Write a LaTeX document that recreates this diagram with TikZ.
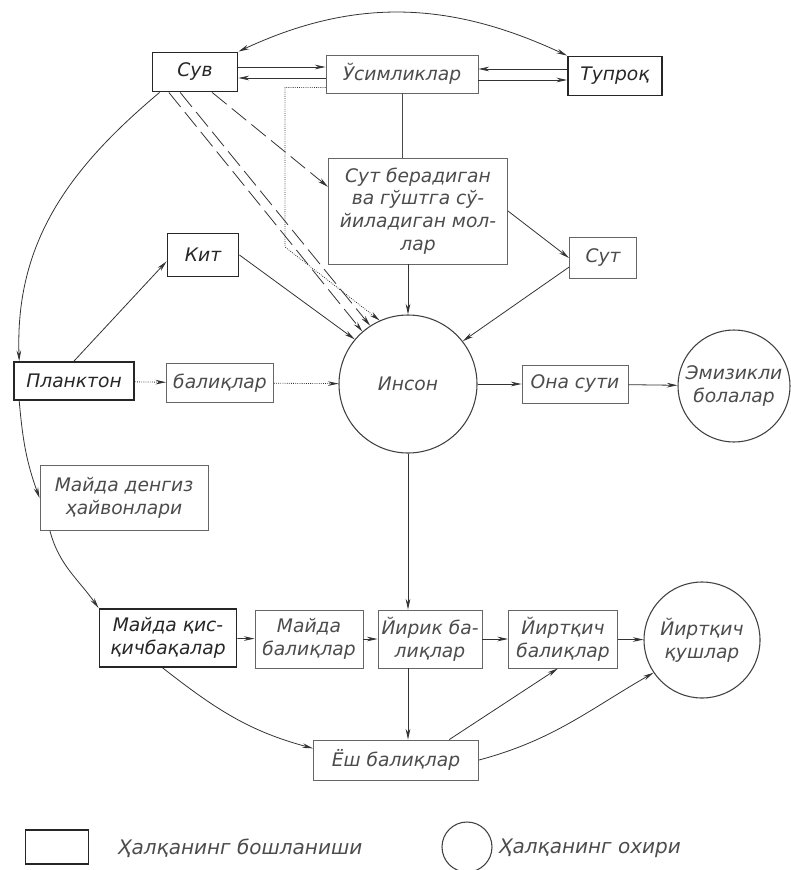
\documentclass[tikz,border=0pt]{standalone}
\usepackage{fontspec}
\setmainfont{DejaVu Sans}
\usetikzlibrary{arrows.meta,calc}

\tikzset{every picture/.style={line width=0.75pt}}
\tikzset{
  hand/.style={font=\itshape\fontsize{14}{17}\selectfont},
  startbox/.style={hand, draw=black!85, line width=1.4pt, inner sep=1pt, align=center, text=black!85},
  linkbox/.style={hand, draw=black!60, line width=0.7pt, inner sep=1pt, align=center, text=black!70},
  endring/.style={hand, circle, draw=black!75, line width=0.8pt, inner sep=1pt, align=center, text=black!70},
  arr/.style={draw=black!80, line width=0.6pt, -{Stealth[length=8pt,width=3.5pt]}},
  twoarr/.style={draw=black!80, line width=0.6pt, {Stealth[length=8pt,width=3.5pt]}-{Stealth[length=8pt,width=3.5pt]}},
  plainlink/.style={draw=black!70, line width=0.6pt},
  dashlink/.style={arr, dash pattern=on 14pt off 5pt},
  dotlink/.style={arr, densely dotted},
}

\begin{document}
\begin{tikzpicture}[x=0.75pt,y=0.75pt,yscale=-1,xscale=1]
\useasboundingbox (0,0) rectangle (791,870);

%Shape: Rectangle [Сув]
\draw (195,72) node [startbox, minimum width=63.75, minimum height=29.25] (suv) {Сув};
%Shape: Rectangle [Ўсимликлар]
\draw (402,74) node [linkbox, minimum width=114, minimum height=28.5] (usim) {Ўсимликлар};
%Shape: Rectangle [Тупроқ]
\draw (615,76) node [startbox, minimum width=70.5, minimum height=29.25] (tuproq) {Тупроқ};
%Shape: Rectangle [моллар]
\draw (418,211) node [linkbox, minimum width=134.25, minimum height=79.5] (mol) {Сут берадиган\\ва гўштга сў-\\йиладиган мол-\\лар};
%Shape: Rectangle [Кит]
\draw (203,255) node [startbox, minimum width=53.25, minimum height=32.25] (kit) {Кит};
%Shape: Rectangle [Сут]
\draw (603,258) node [linkbox, minimum width=50.25, minimum height=30.75] (sut) {Сут};
%Shape: Circle [Инсон]
\draw (408,384) node [endring, minimum size=103.5] (inson) {Инсон};
%Shape: Rectangle [Планктон]
\draw (74,381) node [startbox, minimum width=90, minimum height=28.5] (plankton) {Планктон};
%Shape: Rectangle [балиқлар]
\draw (220,383) node [linkbox, minimum width=80.25, minimum height=29.25] (baliq) {балиқлар};
%Shape: Rectangle [Она сути]
\draw (575,384) node [linkbox, minimum width=79.5, minimum height=28.5] (ona) {Она сути};
%Shape: Circle [Эмизикли болалар]
\draw (734,386) node [endring, minimum size=84] (emiz) {Эмизикли\\болалар};
%Shape: Rectangle [денгиз ҳайвонлари]
\draw (124,498) node [linkbox, minimum width=126, minimum height=48.75] (denqiz) {Майда денгиз\\ҳайвонлари};
%Shape: Rectangle [қисқичбақалар]
\draw (168,638) node [startbox, minimum width=102.75, minimum height=43.5] (qisq) {Майда қис-\\қичбақалар};
%Shape: Rectangle [Майда балиқлар]
\draw (309,639) node [linkbox, minimum width=81, minimum height=43.5] (mbaliq) {Майда\\балиқлар};
%Shape: Rectangle [Йирик балиқлар]
\draw (430,639) node [linkbox, minimum width=78, minimum height=43.5] (yirik) {Йирик ба-\\лиқлар};
%Shape: Rectangle [Йиртқич балиқлар]
\draw (563,639) node [linkbox, minimum width=81.75, minimum height=43.5] (yirtb) {Йиртқич\\балиқлар};
%Shape: Circle [Йиртқич қушлар]
\draw (702,640) node [endring, minimum size=87] (yirtq) {Йиртқич\\қушлар};
%Shape: Rectangle [Ёш балиқлар]
\draw (396,760) node [linkbox, minimum width=123.75, minimum height=30] (yosh) {Ёш балиқлар};

% Text Node
\draw (57,847) node [startbox, line width=1.1pt, minimum width=47.25, minimum height=25.5] (legstart) {};
\draw (113,848) node [hand, anchor=west, text=black!70, font=\itshape\fontsize{15}{17}\selectfont] (legstarttxt) {Ҳалқанинг бошланиши};
\draw (467,847) node [endring, minimum size=37.5] (legfin) {};
\draw (494,848) node [hand, anchor=west, text=black!70, font=\itshape\fontsize{15}{17}\selectfont] (legfintxt) {Ҳалқанинг охири};

% Connection
\draw [arr] ($(suv.east)+(0,-5)$) -- ($(usim.west)+(0,-7)$);
\draw [arr] ($(usim.west)+(0,4)$) -- ($(suv.east)+(0,6)$);
\draw [arr] ($(tuproq.west)+(0,-7)$) -- ($(usim.east)+(0,-5)$);
\draw [arr] ($(usim.east)+(0,6)$) -- ($(tuproq.west)+(0,4)$);
\draw [twoarr] (suv.north east) to[out=-25,in=-155] (tuproq.north west);
\draw [plainlink] (usim.south) -- (usim.south |- mol.north);
\coordinate (bend) at (285,247);
\draw [dotlink] ($(usim.south west)+(0,-6)$) -| (bend) -- (inson.114);
\draw [dashlink] (suv.-50) -- (mol.165);
\draw [dashlink] (suv.-142) -- (inson.131);
\draw [dashlink] (suv.-126) -- (inson.123);
\draw [arr] (kit.east) -- (inson.140);
\draw [arr] (mol.south -| inson) -- (inson.north);
\draw [arr] (mol.east) -- (sut.west);
\draw [arr] (sut.195) -- (inson.38);
% Connection
\draw [arr] (suv.-150) to[out=140,in=-92] (plankton.160);
\draw [arr] (plankton.200) to[out=85,in=-110] (denqiz.west);
\draw [arr] (denqiz.-156) to[out=75,in=-125] (qisq.north west);
\draw [arr] (plankton.north) -- (kit.190);
\draw [dotlink] (plankton) -- (baliq);
\draw [dotlink] (baliq) -- (inson);
\draw [arr] (inson) -- (ona);
\draw [arr] (ona) -- (emiz);
% Connection
\draw [arr] (inson.south) -- (inson.south |- yirik.north);
\draw [arr] (qisq) -- (mbaliq);
\draw [arr] (mbaliq) -- (yirik);
\draw [arr] (yirik) -- (yirtb);
\draw [arr] (yirtb) -- (yirtq);
\draw [arr] (inson.south |- yirik.south) -- (inson.south |- yosh.north);
\draw [arr] (qisq.-100) to[out=38,in=-165] (yosh.172);
\draw [arr] (yosh.21) -- (yirtb.-100);
\draw [arr] (yosh.east) to[out=-15,in=150] (yirtq.-146);

\end{tikzpicture}
\end{document}
